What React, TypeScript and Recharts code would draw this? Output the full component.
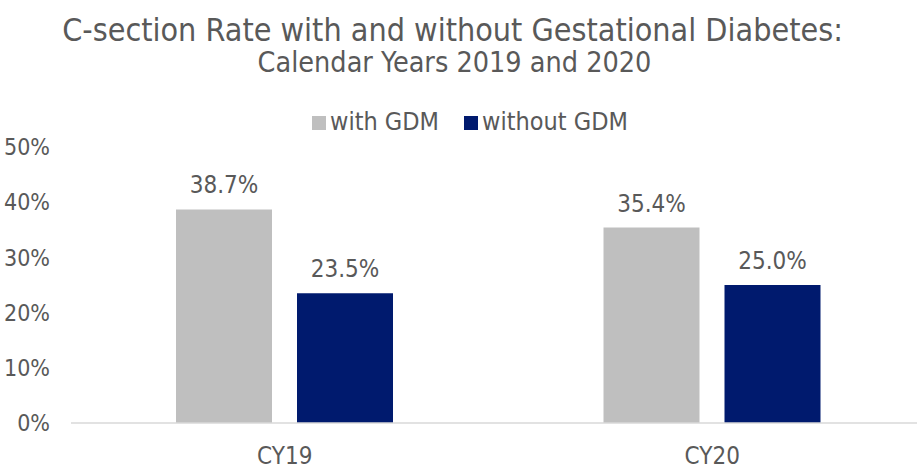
import { BarChart, Bar, XAxis, YAxis, Legend, LabelList } from "recharts";

const categories = ["CY19", "CY20"];
const withGdm = [38.7, 35.4];
const withoutGdm = [23.5, 25.0];
const yTicks = [0, 10, 20, 30, 40, 50];

const FONT = '"DejaVu Sans Condensed", "Liberation Sans Narrow", "DejaVu Sans", sans-serif';
const TEXT = "#595959";

const chartData = categories.map((cat, i) => ({
  name: cat,
  withGdm: withGdm[i],
  withoutGdm: withoutGdm[i],
}));

const pct = (v: number) => `${v.toFixed(1)}%`;

export default function App() {
  return (
    <div
      style={{
        position: "absolute",
        left: 0,
        top: 0,
        width: 917,
        height: 466,
        overflow: "hidden",
        background: "#fff",
        fontFamily: FONT,
        color: TEXT,
      }}
    >
      <div
        style={{
          position: "absolute",
          top: 14,
          left: 0,
          width: 905,
          textAlign: "center",
          fontSize: 32,
          lineHeight: "32px",
          whiteSpace: "nowrap",
        }}
      >
        C-section Rate with and without Gestational Diabetes:
      </div>
      <div
        style={{
          position: "absolute",
          top: 49,
          left: 0,
          width: 909,
          textAlign: "center",
          fontSize: 28.5,
          lineHeight: "28px",
          whiteSpace: "nowrap",
        }}
      >
        Calendar Years 2019 and 2020
      </div>
      <BarChart
        width={930}
        height={466}
        data={chartData}
        margin={{ top: 118, right: 4, bottom: 0, left: 0 }}
        barSize={96}
        barGap={25}
      >
        <XAxis
          dataKey="name"
          height={43}
          tickLine={false}
          tickSize={0}
          tickMargin={24}
          axisLine={{ stroke: "#D9D9D9", strokeWidth: 1.5 }}
          tick={{ fill: TEXT, fontSize: 24, fontFamily: FONT }}
        />
        <YAxis
          width={71}
          domain={[0, 50]}
          ticks={yTicks}
          axisLine={false}
          tickLine={false}
          tickSize={0}
          tickMargin={21}
          tickFormatter={(v: number) => `${v}%`}
          tick={{ fill: TEXT, fontSize: 23, fontFamily: FONT }}
        />
        <Legend
          verticalAlign="top"
          align="left"
          iconType="square"
          iconSize={14}
          wrapperStyle={{ position: "absolute", top: 107, left: 312, width: 420, fontSize: 25, fontFamily: FONT }}
          formatter={(value: string) => (
            <span style={{ color: TEXT, marginRight: 15 }}>{value}</span>
          )}
        />
        <Bar dataKey="withGdm" name="with GDM" fill="#BFBFBF" isAnimationActive={false}>
          <LabelList
            dataKey="withGdm"
            position="top"
            offset={16}
            formatter={(v: number) => pct(v)}
            style={{ fill: TEXT, fontSize: 24, fontFamily: FONT }}
          />
        </Bar>
        <Bar dataKey="withoutGdm" name="without GDM" fill="#001A6E" isAnimationActive={false}>
          <LabelList
            dataKey="withoutGdm"
            position="top"
            offset={16}
            formatter={(v: number) => pct(v)}
            style={{ fill: TEXT, fontSize: 24, fontFamily: FONT }}
          />
        </Bar>
      </BarChart>
    </div>
  );
}
